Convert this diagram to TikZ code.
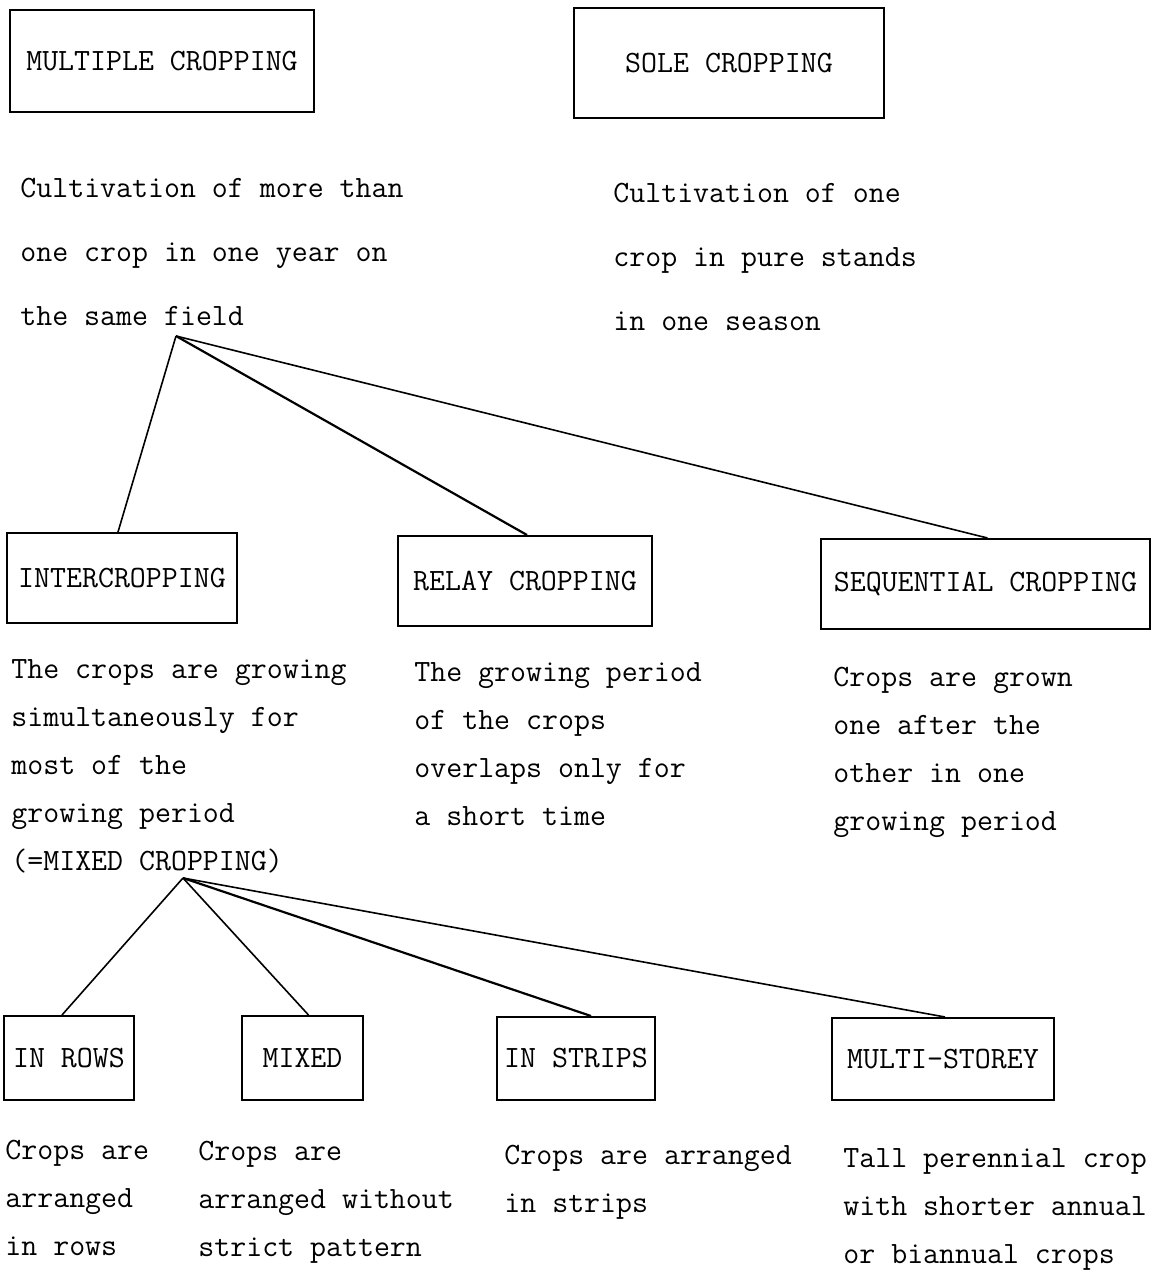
\documentclass[tikz,border=0pt]{standalone}
\usepackage{fontspec}
\usepackage{tikz}

\newcommand{\tw}{\ttfamily\fontsize{15.5}{24}\selectfont}

\begin{document}
\begin{tikzpicture}[x=0.5pt,y=-0.5pt,
    box/.style={draw,line width=1pt,inner sep=0pt,font=\tw},
    txt/.style={anchor=base west,inner sep=0pt,align=left,font=\ttfamily\fontsize{15.5}{#1}\selectfont},
    txt/.default=24pt,
    link/.style={line width=0.8pt}]
  \useasboundingbox (0,0) rectangle (1152,1270);

  % top row (text nodes sit on the baseline of their last line)
  \node[box,minimum width=152pt,minimum height=51pt] (multi) at (162,61) {MULTIPLE CROPPING};
  \node[box,minimum width=155pt,minimum height=55pt] (sole) at (729,63) {SOLE CROPPING};
  \node[txt=32pt] (multitxt) at (20,325) {Cultivation of more than\\one crop in one year on\\the same field};
  \node[txt=32pt] (soletxt) at (613,330) {Cultivation of one\\crop in pure stands\\in one season};
  \coordinate (apex1) at (176,336);

  % middle row
  \node[box,minimum width=115pt,minimum height=45pt] (inter) at (122,578) {INTERCROPPING};
  \node[box,minimum width=127pt,minimum height=45pt] (relay) at (525,581) {RELAY CROPPING};
  \node[box,minimum width=164.5pt,minimum height=45pt] (seq) at (985.5,584) {SEQUENTIAL CROPPING};
  \node[txt] (intertxt) at (11,870) {The crops are growing\\simultaneously for\\most of the\\growing period\\(=MIXED CROPPING)};
  \node[txt] (relaytxt) at (414,825) {The growing period\\of the crops\\overlaps only for\\a short time};
  \node[txt] (seqtxt) at (833,830) {Crops are grown\\one after the\\other in one\\growing period};
  \coordinate (apex2) at (183,878);

  % bottom row
  \node[box,minimum width=65pt,minimum height=42pt] (rows) at (69,1058) {IN ROWS};
  \node[box,minimum width=60.5pt,minimum height=42pt] (mixed) at (302.5,1058) {MIXED};
  \node[box,minimum width=79pt,minimum height=41.5pt] (strips) at (576,1058.5) {IN STRIPS};
  \node[box,minimum width=111pt,minimum height=41pt] (storey) at (943,1059) {MULTI-STOREY};
  \node[txt] (rowstxt) at (5,1255) {Crops are\\arranged\\in rows};
  \node[txt] (mixedtxt) at (198,1256) {Crops are\\arranged without\\strict pattern};
  \node[txt] (stripstxt) at (504,1212) {Crops are arranged\\in strips};
  \node[txt] (storeytxt) at (843,1263) {Tall perennial crop\\with shorter annual\\or biannual crops};

  % connectors
  \draw[link] (apex1) -- ([xshift=-2pt]inter.north);
  \draw[link,line width=1.1pt] (apex1) -- ([xshift=1pt]relay.north);
  \draw[link] (apex1) -- ([xshift=1pt]seq.north);
  \draw[link] (apex2) -- ([xshift=-3.5pt]rows.north);
  \draw[link] (apex2) -- ([xshift=3pt]mixed.north);
  \draw[link,line width=1.1pt] (apex2) -- ([xshift=7.5pt]strips.north);
  \draw[link] (apex2) -- ([xshift=1pt]storey.north);
\end{tikzpicture}
\end{document}
